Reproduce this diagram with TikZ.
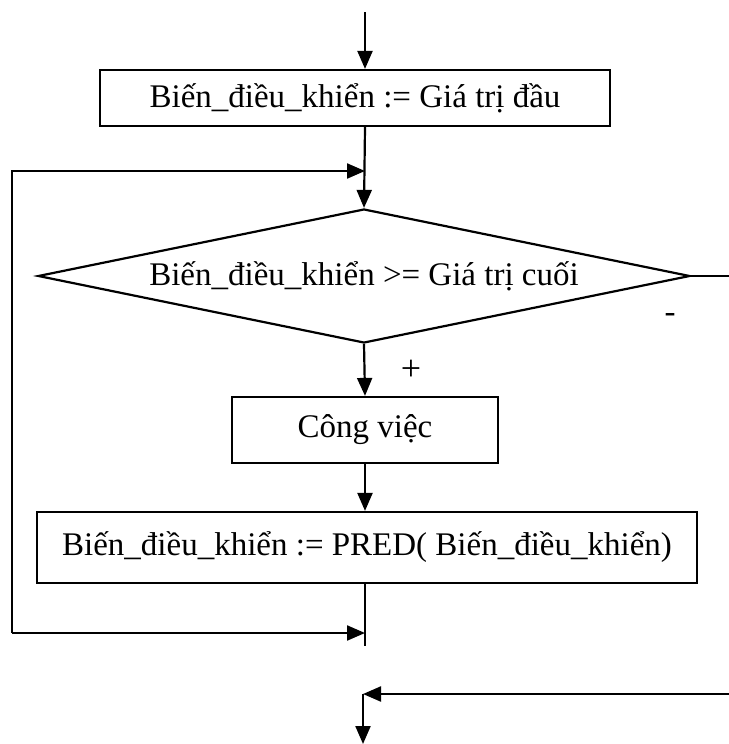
\documentclass[tikz,border=0pt]{standalone}
\usepackage{fontspec}
\setmainfont{Liberation Serif}
\usetikzlibrary{shapes.geometric,arrows.meta}
\begin{document}
\begin{tikzpicture}[x=1pt,y=-1pt, line width=2.2pt,
  flow/.style={-{Triangle[length=18pt,width=15pt]}},
  txt/.style={font=\fontsize{33}{39}\selectfont, inner sep=0pt},
  box/.style={draw, rectangle, txt}]
\useasboundingbox (0,0) rectangle (728,744);
\coordinate (top) at (365,12);
\node[box, minimum width=510pt, minimum height=56pt] (init) at (355,98) {Biến\_điều\_khiển := Giá trị đầu};
\coordinate (join) at (365,171);
\node[draw, diamond, shape aspect=4.87, minimum width=652pt, minimum height=134pt, txt] (cond) at (364,276) {Biến\_điều\_khiển >= Giá trị cuối};
\coordinate (rexit) at (730,276);
\node[txt] (minus) at (670,318) {-};
\node[txt, font=\fontsize{36}{40}\selectfont] (plus) at (411,370) {+};
\node[box, minimum width=266pt, minimum height=66pt] (work) at (365,430) {Công việc};
\node[box, minimum width=660pt, minimum height=71pt] (pred) at (367,547.5) {Biến\_điều\_khiển := PRED( Biến\_điều\_khiển)};
\coordinate (pend) at (365,646);
\coordinate (bjoin) at (365,633);
\coordinate (lb) at (12,633);
\coordinate (lt) at (12,171);
\coordinate (rin) at (730,694);
\coordinate (mj) at (363,694);
\coordinate (bot) at (363,744);
\draw[flow] (top) -- (top |- init.north);
\draw[flow] (top |- init.south) -- (cond.north);
\draw (cond.east) -- (rexit);
\draw[flow] (cond.south) -- (work.north);
\draw[flow] (work.south) -- (work.south |- pred.north);
\draw (work.south |- pred.south) -- (pend);
\draw[flow] (lb) -- (bjoin);
\draw[flow] (lb) -- (lt) -- (join);
\draw[flow] (rin) -- (mj);
\draw[flow] (mj) -- (bot);
\end{tikzpicture}
\end{document}
